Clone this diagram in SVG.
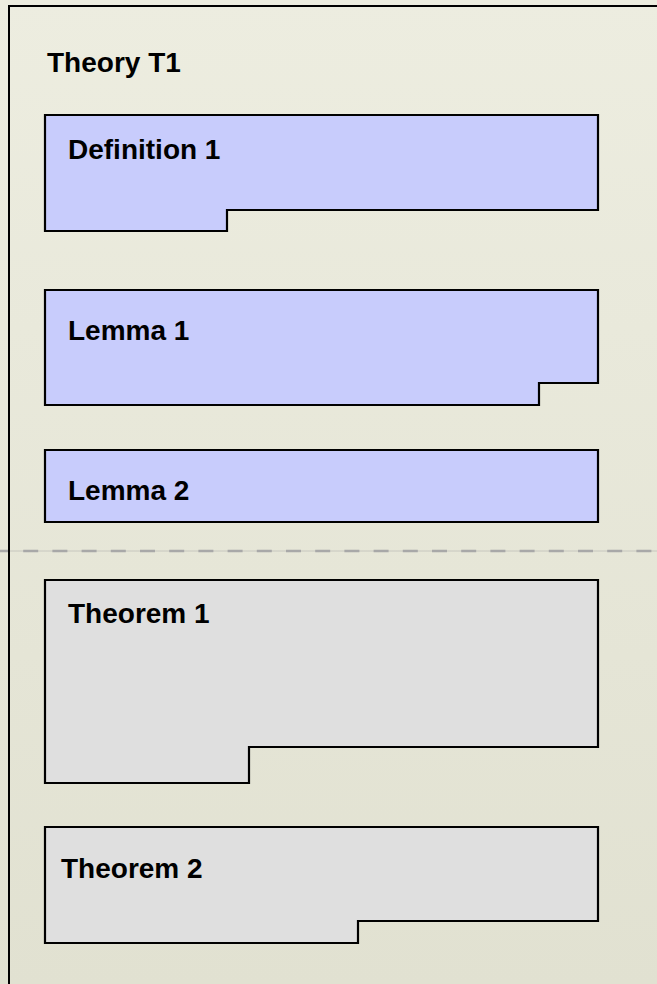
<svg xmlns="http://www.w3.org/2000/svg" width="657" height="984" viewBox="0 0 657 984">
  <defs>
    <linearGradient id="bg" x1="0" y1="0" x2="0" y2="1">
      <stop offset="0" stop-color="#EDEDE0"/>
      <stop offset="1" stop-color="#E1E1D1"/>
    </linearGradient>
  </defs>
  <style>
    .frame { fill: none; stroke: #000; stroke-width: 2; }
    .blue { fill: #C8CCFC; stroke: #000; stroke-width: 2.2; stroke-linejoin: miter; }
    .gray { fill: #DFDFDF; stroke: #000; stroke-width: 2.2; stroke-linejoin: miter; }
    .lbl { font-family: "Liberation Sans", Arial, sans-serif; font-weight: bold; font-size: 28px; fill: #000; }
    .sep-thin { stroke: #C6C6BE; stroke-width: 1; fill: none; }
    .sep { stroke: #A8A8A8; stroke-width: 2.5; stroke-dasharray: 15 14.2; fill: none; }
  </style>
  <rect x="0" y="0" width="657" height="984" fill="url(#bg)"/>
  <g id="connectors">
    <line class="sep-thin" x1="0" y1="551" x2="657" y2="551"/>
    <line class="sep" x1="-6" y1="551" x2="657" y2="551"/>
  </g>
  <g id="theory-t1">
    <rect class="frame" x="9" y="6" width="700" height="1000"/>
    <text class="lbl" x="47" y="72">Theory T1</text>
  </g>
  <g id="definition-1">
    <path class="blue" d="M45,115 H598 V210 H227 V231 H45 Z"/>
    <text class="lbl" x="68" y="159">Definition 1</text>
  </g>
  <g id="lemma-1">
    <path class="blue" d="M45,290 H598 V383 H539 V405 H45 Z"/>
    <text class="lbl" x="68" y="340">Lemma 1</text>
  </g>
  <g id="lemma-2">
    <path class="blue" d="M45,450 H598 V522 H45 Z"/>
    <text class="lbl" x="68" y="500">Lemma 2</text>
  </g>
  <g id="theorem-1">
    <path class="gray" d="M45,580 H598 V747 H249 V783 H45 Z"/>
    <text class="lbl" x="68" y="623">Theorem 1</text>
  </g>
  <g id="theorem-2">
    <path class="gray" d="M45,827 H598 V921 H358 V943 H45 Z"/>
    <text class="lbl" x="61" y="878">Theorem 2</text>
  </g>
</svg>
